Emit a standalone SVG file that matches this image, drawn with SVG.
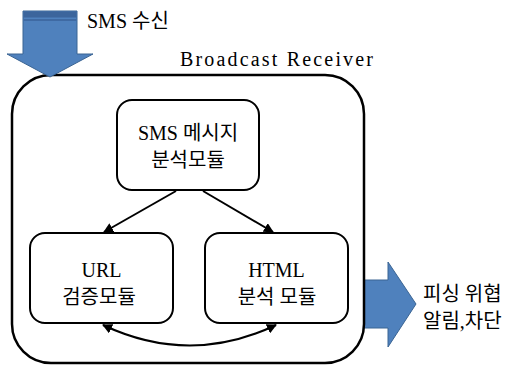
<svg xmlns="http://www.w3.org/2000/svg" width="516" height="366" viewBox="0 0 516 366">
<defs>
<style>
.t{font-family:"Liberation Serif","Noto Sans CJK KR",serif;font-size:20px;fill:#000}
.box{fill:#fff;stroke:#000;stroke-width:2}
.blue{fill:#4f81bd;stroke:#3a6493;stroke-width:1}
.c{fill:none;stroke:#000;stroke-width:2}
</style>
<marker id="ah" viewBox="0 0 10 10" refX="9" refY="5" markerWidth="5" markerHeight="5" orient="auto-start-reverse" markerUnits="strokeWidth">
<path d="M0,0 L10,5 L0,10 z" fill="#000"/>
</marker>
</defs>
<rect width="516" height="366" fill="#fff"/>
<g id="out-arrow">
<path class="blue" d="M362,280 L388,280 L388,262 L416,304 L388,347 L388,328 L362,328 z"/>
<text class="t" x="423" y="301">피싱 위협</text>
<text class="t" x="423" y="328">알림,차단</text>
</g>
<g id="receiver">
<rect x="12" y="75" width="352" height="288" rx="39" ry="39" fill="#fff" stroke="#000" stroke-width="2.5"/>
<text class="t" x="180" y="66" textLength="193" lengthAdjust="spacing">Broadcast Receiver</text>
</g>
<g id="in-arrow">
<path class="blue" d="M23,11 L77,11 L77,54 L93,54 L50,77 L7,54 L23,54 z"/>
<rect x="23.5" y="11.5" width="53" height="6" fill="#3c659c"/>
<rect x="23.5" y="19" width="53" height="2" fill="#3f6aa3"/>
<text class="t" x="87" y="28">SMS 수신</text>
</g>
<g id="sms-module">
<rect class="box" x="117" y="100" width="142" height="90" rx="15" ry="15"/>
<text class="t" x="188" y="140" text-anchor="middle">SMS 메시지</text>
<text class="t" x="188" y="167" text-anchor="middle">분석모듈</text>
</g>
<g id="url-module">
<rect class="box" x="30" y="233" width="143" height="90" rx="15" ry="15"/>
<text class="t" x="101.5" y="277" text-anchor="middle">URL</text>
<text class="t" x="99" y="304" text-anchor="middle">검증모듈</text>
</g>
<g id="html-module">
<rect class="box" x="205" y="233" width="143" height="90" rx="15" ry="15"/>
<text class="t" x="276.5" y="277" text-anchor="middle">HTML</text>
<text class="t" x="277" y="304" text-anchor="middle">분석 모듈</text>
</g>
<g id="connectors">
<path class="c" d="M176,191 L104,232" marker-end="url(#ah)"/>
<path class="c" d="M203,191 L273,232" marker-end="url(#ah)"/>
<path class="c" d="M103,325 Q190,366 276,325" marker-start="url(#ah)" marker-end="url(#ah)"/>
</g>
</svg>
